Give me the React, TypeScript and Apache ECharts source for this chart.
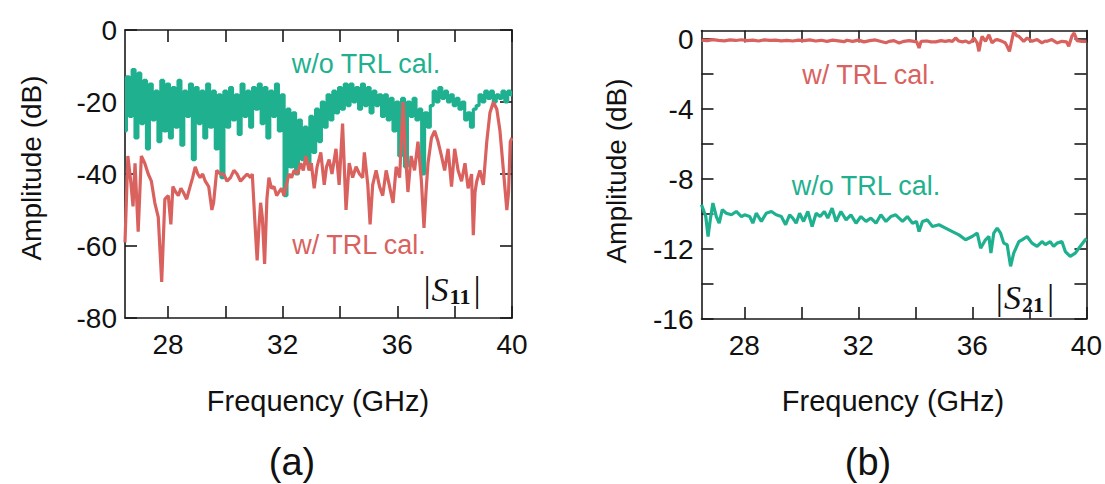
import React, { useEffect, useRef } from "react";
import * as echarts from "echarts";

// ---------- data ----------
// Panel (a) |S11|, w/o TRL cal. : sampled every 0.1 GHz from 26.5 GHz
const s11NoTrlStart = 26.5;
const s11NoTrlStep = 0.1;
const s11NoTrlAmp = [
  -28, -13, -24, -11, -30, -12, -26, -14, -33, -15,
  -25, -17, -31, -14, -28, -15, -30, -16, -27, -14,
  -32, -17, -24, -15, -36, -16, -26, -17, -30, -15,
  -27, -17, -33, -18, -41, -17, -27, -16, -25, -18,
  -29, -15, -24, -17, -27, -16, -22, -15, -26, -16,
  -30, -17, -24, -15, -28, -18, -46, -22, -38, -23,
  -40, -25, -36, -27, -37, -24, -34, -22, -31, -20,
  -27, -18, -25, -17, -23, -16, -22, -15, -21, -15,
  -20, -16, -22, -15, -21, -16, -23, -17, -21, -18,
  -24, -18, -25, -19, -28, -20, -35, -19, -38, -20,
  -24, -19, -25, -22, -40, -23, -27, -21, -17, -20,
  -16, -19, -17, -20, -18, -21, -19, -22, -20, -25,
  -23, -27, -22, -21, -18, -20, -17, -19, -17, -20,
  -18, -19, -17, -20, -17, -18,
];

// Panel (a) |S11|, w/ TRL cal. : [GHz, dB]
const s11TrlPoints = [
  [26.5, -59], [26.6, -35], [26.7, -42], [26.78, -49], [26.85, -37], [26.96, -56],
  [27.07, -35], [27.19, -37], [27.31, -40], [27.42, -42], [27.54, -48], [27.66, -52],
  [27.78, -70], [27.89, -47], [28.01, -46], [28.1, -54], [28.17, -43.5], [28.27, -45],
  [28.36, -46], [28.45, -44], [28.53, -45], [28.65, -47], [28.77, -43.5], [28.86, -41],
  [28.95, -38], [29.04, -40], [29.12, -41], [29.21, -40], [29.3, -42], [29.42, -43.5],
  [29.53, -50], [29.59, -48], [29.7, -39], [29.82, -40], [29.94, -40], [30.06, -42],
  [30.18, -41], [30.3, -39], [30.41, -40], [30.53, -42], [30.64, -41], [30.76, -40],
  [30.88, -41], [30.94, -40], [31.05, -56], [31.11, -64], [31.17, -55], [31.23, -48],
  [31.29, -52], [31.37, -65], [31.45, -47], [31.52, -41], [31.61, -44], [31.7, -43.5],
  [31.79, -46], [31.87, -45], [31.96, -44], [32.05, -46], [32.13, -43], [32.22, -40],
  [32.31, -41], [32.4, -39], [32.52, -40], [32.63, -37], [32.72, -39], [32.81, -35],
  [32.92, -39], [33.0, -37], [33.1, -44], [33.2, -38], [33.33, -34], [33.45, -43],
  [33.53, -38], [33.62, -36], [33.72, -40], [33.86, -33], [33.97, -43], [34.09, -26],
  [34.21, -50], [34.32, -37], [34.44, -41], [34.56, -38], [34.68, -40], [34.79, -41],
  [34.85, -34], [34.97, -43], [35.05, -54], [35.14, -43], [35.26, -39], [35.38, -43.5],
  [35.49, -46], [35.61, -39], [35.73, -43.5], [35.85, -48], [35.96, -38], [36.08, -41],
  [36.2, -20], [36.28, -34], [36.37, -45], [36.48, -35], [36.6, -39], [36.72, -31],
  [36.84, -42], [36.93, -55], [37.0, -45], [37.07, -37], [37.19, -30], [37.3, -28],
  [37.42, -31], [37.54, -35], [37.65, -39], [37.77, -33], [37.89, -43.5], [38.0, -33],
  [38.12, -39], [38.24, -42], [38.36, -37], [38.47, -44], [38.59, -40], [38.65, -57],
  [38.71, -45], [38.77, -42], [38.88, -39], [39.0, -43], [39.12, -31], [39.23, -23],
  [39.35, -20], [39.47, -22], [39.58, -28], [39.7, -39], [39.82, -50], [39.88, -45],
  [39.94, -31], [40.0, -30],
];

// Panel (b) |S21|, w/o TRL cal. : [GHz, dB]
const s21NoTrlPoints = [
  [26.5, -9.47], [26.65, -10.14], [26.73, -11.28], [26.81, -10.3], [26.9, -9.37],
  [27.02, -10.14], [27.12, -10.52], [27.23, -9.75], [27.37, -9.95], [27.55, -10.04],
  [27.72, -9.85], [27.9, -10.14], [28.01, -10.04], [28.19, -10.14], [28.3, -10.52],
  [28.42, -9.95], [28.6, -10.42], [28.77, -9.95], [28.95, -9.85], [29.12, -10.04],
  [29.3, -10.14], [29.45, -10.61], [29.59, -10.04], [29.7, -10.23], [29.82, -10.52],
  [29.94, -9.95], [30.08, -10.42], [30.23, -9.85], [30.38, -10.71], [30.52, -9.95],
  [30.66, -10.14], [30.81, -9.85], [30.93, -10.23], [31.08, -9.66], [31.22, -10.42],
  [31.39, -9.85], [31.57, -10.33], [31.74, -10.04], [31.92, -10.52], [32.09, -10.14],
  [32.27, -10.42], [32.44, -10.23], [32.62, -10.52], [32.79, -10.04], [32.97, -10.42],
  [33.14, -10.14], [33.31, -10.04], [33.55, -10.42], [33.72, -10.14], [33.9, -10.52],
  [34.04, -10.42], [34.13, -11.0], [34.25, -10.42], [34.42, -10.33], [34.6, -10.71],
  [34.83, -10.61], [35.06, -10.8], [35.3, -11.0], [35.53, -11.19], [35.76, -11.47],
  [35.99, -11.28], [36.17, -11.09], [36.29, -11.95], [36.46, -11.47], [36.58, -11.28],
  [36.65, -12.23], [36.75, -11.09], [36.87, -10.8], [36.99, -11.09], [37.1, -11.66],
  [37.22, -11.75], [37.34, -12.99], [37.45, -12.23], [37.63, -11.57], [37.74, -11.47],
  [37.92, -11.28], [38.09, -11.66], [38.27, -11.85], [38.44, -11.57], [38.56, -11.75],
  [38.73, -11.57], [38.85, -11.85], [38.97, -11.66], [39.14, -11.57], [39.26, -12.14],
  [39.43, -12.42], [39.61, -12.23], [39.78, -11.85], [39.96, -11.47], [40.0, -11.4],
];

// Panel (b) |S21|, w/ TRL cal. : [GHz, dB]
const s21TrlPoints = [
  [26.5, -0.05], [26.7, -0.08], [26.9, -0.02], [27.1, -0.06], [27.3, -0.09], [27.5, -0.04],
  [27.7, -0.07], [27.9, -0.03], [28.1, -0.08], [28.3, -0.05], [28.5, -0.1], [28.7, -0.04],
  [28.9, -0.07], [29.1, -0.05], [29.3, -0.09], [29.5, -0.06], [29.7, -0.1], [29.9, -0.05],
  [30.1, -0.08], [30.3, -0.04], [30.5, -0.1], [30.7, -0.06], [30.9, -0.12], [31.1, -0.05],
  [31.3, -0.09], [31.5, -0.14], [31.6, -0.06], [31.8, -0.12], [32.0, -0.05], [32.2, -0.15],
  [32.4, -0.08], [32.6, -0.04], [32.8, -0.13], [32.97, -0.2], [33.08, -0.12], [33.25, -0.08],
  [33.43, -0.21], [33.6, -0.12], [33.78, -0.08], [33.95, -0.12], [34.05, -0.15], [34.13, -0.5],
  [34.2, -0.12], [34.4, -0.1], [34.55, -0.15], [34.71, -0.15], [34.9, -0.08], [35.05, -0.12],
  [35.18, -0.08], [35.3, -0.12], [35.41, 0.07], [35.52, -0.1], [35.65, -0.15], [35.77, -0.1],
  [35.88, -0.21], [35.97, -0.12], [36.05, 0.07], [36.17, -0.21], [36.23, -0.69], [36.3, -0.1],
  [36.34, 0.17], [36.46, -0.12], [36.58, 0.26], [36.69, -0.21], [36.8, -0.05], [36.87, -0.02],
  [37.04, -0.12], [37.15, -0.2], [37.22, -0.4], [37.3, -0.69], [37.45, 0.45], [37.55, 0.2],
  [37.63, 0.17], [37.8, -0.12], [37.92, 0.07], [38.09, -0.12], [38.27, -0.02], [38.44, -0.21],
  [38.55, -0.1], [38.62, -0.12], [38.79, -0.02], [38.97, -0.21], [39.14, -0.12], [39.3, -0.15],
  [39.38, -0.4], [39.49, 0.17], [39.57, 0.36], [39.67, -0.08], [39.84, -0.12], [40.0, -0.12],
];

// Axes ticks / labels
const freqTicks = [28, 30, 32, 34, 36, 38, 40];
const freqLabels = [28, 32, 36, 40];
const s11Ticks = [-80, -60, -40, -20, 0];
const s21Ticks = [-16, -14, -12, -10, -8, -6, -4, -2, 0];
const s21Labels = [-16, -12, -8, -4, 0];

const TEAL = "#1fb18f";
const RED = "#d9625f";
const INK = "#1a1a1a";
const SANS = "'Liberation Sans', Arial, Helvetica, sans-serif";
const SERIF = "'Liberation Serif', 'DejaVu Serif', serif";

const s11NoTrlPoints = s11NoTrlAmp.map((v, i) => [
  +(s11NoTrlStart + i * s11NoTrlStep).toFixed(2),
  v,
]);

function frameAxis(
  gridIndex: number,
  position: string,
  min: number,
  max: number,
  ticks: number[],
  labels: number[] | null,
  margin: number
) {
  return {
    type: "value",
    gridIndex,
    position,
    min,
    max,
    axisLine: { show: true, onZero: false, lineStyle: { color: INK, width: 1.6 } },
    axisTick: {
      show: true,
      inside: true,
      length: 12,
      customValues: ticks,
      lineStyle: { color: INK, width: 1.6 },
    },
    axisLabel: labels
      ? {
          show: true,
          customValues: labels,
          fontSize: 28,
          color: "#111",
          fontFamily: SANS,
          margin,
        }
      : { show: false },
    splitLine: { show: false },
  };
}

function label(text: string, x: number, y: number, color: string, size: number, rotation = 0) {
  return {
    type: "text",
    x,
    y,
    rotation,
    style: {
      text,
      fill: color,
      font: `${size}px ${SANS}`,
      align: "center",
      verticalAlign: "middle",
    },
  };
}

function sParam(sub: string, x: number, y: number) {
  return {
    type: "text",
    x,
    y,
    style: {
      text: `{b||}{s|S}{sub|${sub}}{b||}`,
      align: "center",
      verticalAlign: "middle",
      fill: "#111",
      rich: {
        b: { fontFamily: SERIF, fontSize: 36, fill: "#111", verticalAlign: "middle" },
        s: {
          fontFamily: SERIF,
          fontStyle: "italic",
          fontSize: 34,
          fill: "#111",
          verticalAlign: "middle",
          padding: [0, 1, 0, 1],
        },
        sub: {
          fontFamily: SERIF,
          fontWeight: "bold",
          fontSize: 22,
          fill: "#111",
          verticalAlign: "bottom",
          padding: [12, 3, 0, 0],
        },
      },
    },
  };
}

export default function App() {
  const ref = useRef<HTMLDivElement>(null);

  useEffect(() => {
    if (!ref.current) return;
    const chart = echarts.init(ref.current, null, { renderer: "svg" });
    chart.setOption({
      animation: false,
      backgroundColor: "#ffffff",
      grid: [
        { left: 125, top: 30, width: 387, height: 288 },
        { left: 701.5, top: 30.5, width: 386.5, height: 288.5 },
      ],
      xAxis: [
        frameAxis(0, "bottom", 26.5, 40, freqTicks, freqLabels, 12),
        frameAxis(0, "top", 26.5, 40, freqTicks, null, 0),
        frameAxis(1, "bottom", 26.5, 40, freqTicks, freqLabels, 12),
        frameAxis(1, "top", 26.5, 40, freqTicks, null, 0),
      ],
      yAxis: [
        frameAxis(0, "left", -80, 0, s11Ticks, s11Ticks, 8),
        frameAxis(0, "right", -80, 0, s11Ticks, null, 0),
        frameAxis(1, "left", -16, 0.5, s21Ticks, s21Labels, 8),
        frameAxis(1, "right", -16, 0.5, s21Ticks, null, 0),
      ],
      series: [
        {
          name: "S11 w/o TRL cal.",
          type: "line",
          xAxisIndex: 0,
          yAxisIndex: 0,
          data: s11NoTrlPoints,
          step: "middle",
          showSymbol: false,
          lineStyle: { color: TEAL, width: 3.2 },
          itemStyle: { color: TEAL },
          z: 2,
        },
        {
          name: "S11 w/ TRL cal.",
          type: "line",
          xAxisIndex: 0,
          yAxisIndex: 0,
          data: s11TrlPoints,
          showSymbol: false,
          lineStyle: { color: RED, width: 3.2 },
          itemStyle: { color: RED },
          z: 3,
        },
        {
          name: "S21 w/o TRL cal.",
          type: "line",
          xAxisIndex: 2,
          yAxisIndex: 2,
          data: s21NoTrlPoints,
          showSymbol: false,
          lineStyle: { color: TEAL, width: 3.2 },
          itemStyle: { color: TEAL },
          z: 2,
        },
        {
          name: "S21 w/ TRL cal.",
          type: "line",
          xAxisIndex: 2,
          yAxisIndex: 2,
          data: s21TrlPoints,
          showSymbol: false,
          lineStyle: { color: RED, width: 3.2 },
          itemStyle: { color: RED },
          z: 3,
        },
      ],
      graphic: [
        label("Amplitude (dB)", 31, 168, "#111", 28, Math.PI / 2),
        label("Amplitude (dB)", 616, 171, "#111", 28, Math.PI / 2),
        label("Frequency (GHz)", 318, 401, "#111", 29),
        label("Frequency (GHz)", 893, 401, "#111", 29),
        label("(a)", 292, 462, "#111", 38),
        label("(b)", 868, 462, "#111", 38),
        label("w/o TRL cal.", 366, 64, TEAL, 27),
        label("w/ TRL cal.", 359, 245, RED, 27),
        label("w/ TRL cal.", 869, 75, RED, 27),
        label("w/o TRL cal.", 866, 186, TEAL, 27),
        sParam("11", 452, 289),
        sParam("21", 1025, 297),
      ],
    });
    return () => chart.dispose();
  }, []);

  return (
    <div
      ref={ref}
      style={{ position: "absolute", left: 0, top: 0, width: 1105, height: 484 }}
    />
  );
}
